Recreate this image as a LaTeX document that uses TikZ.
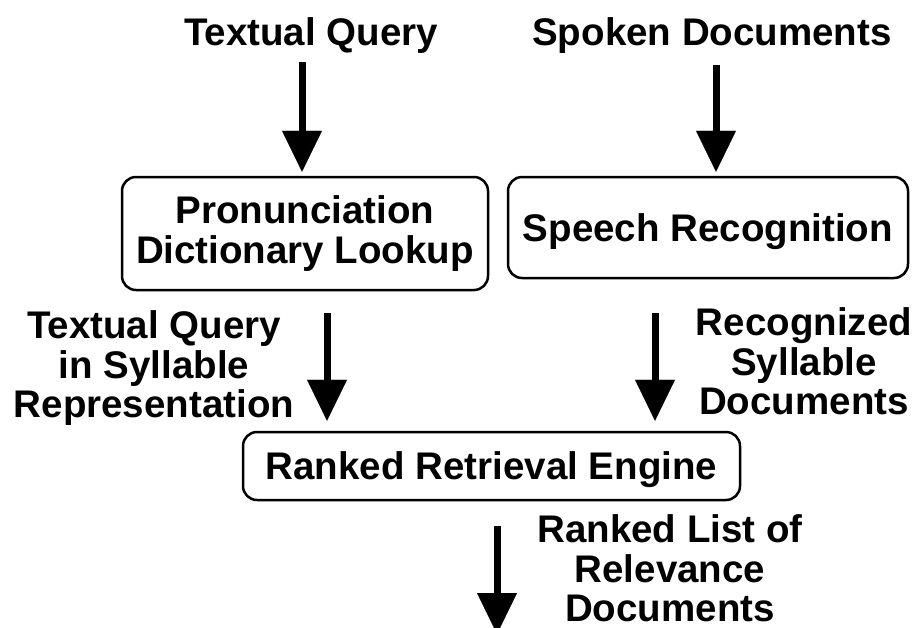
\documentclass[tikz,border=0pt]{standalone}
\usepackage{fontspec}
\setmainfont{Liberation Sans}
\usetikzlibrary{arrows.meta}

\tikzset{
  lbl/.style={inner sep=0pt, align=center, text=black},
  box/.style={draw, line width=2.5pt, rounded corners=14pt, inner sep=0pt, align=center},
  captext/.style={text height=27.5pt, text depth=0pt},
  flow/.style={line width=7pt, -{Triangle[width=40pt,length=41pt,line width=0.1pt]}},
}

\begin{document}
\begin{tikzpicture}[x=1pt, y=-1pt, font=\fontsize{38.5}{39.5}\selectfont\bfseries]
  \useasboundingbox (0,0) rectangle (915,627);
  \clip (0,0) rectangle (915,627);

  % inputs
  \node[lbl, anchor=base] (tq) at (311,45) {Textual Query};
  \node[lbl, anchor=base] (sd) at (712,45) {Spoken Documents};

  % processing blocks
  \node[box, minimum width=366pt, minimum height=113pt] (pdl) at (305,233.5)
       {Pronunciation\\Dictionary Lookup};
  \node[box, captext, minimum width=400pt, minimum height=101pt] (sr) at (708,227.5)
       {Speech Recognition};
  \node[box, captext, minimum width=497pt, minimum height=68pt] (rre) at (491.5,466)
       {Ranked Retrieval Engine};

  % intermediate labels
  \node[lbl, anchor=north] (lq) at (154,310.5) {Textual Query\\in Syllable\\Representation};
  \node[lbl, anchor=north] (rs) at (804,307.5) {Recognized\\Syllable\\Documents};
  \node[lbl, anchor=north] (rl) at (670,514.5) {Ranked List of\\Relevance\\Documents};

  \coordinate (out) at (497,634);

  % data flow
  \draw[flow, shorten <=9pt, shorten >=4pt] ([xshift=-9pt]tq.south) -- ([xshift=-3pt]pdl.north);
  \draw[flow, shorten <=12pt, shorten >=4pt] ([xshift=4pt]sd.south) -- ([xshift=8pt]sr.north);
  \draw[flow, shorten <=22pt, shorten >=10pt] ([xshift=22pt]pdl.south) -- ([xshift=-164.5pt]rre.north);
  \draw[flow, shorten <=34pt, shorten >=10pt] ([xshift=-53pt]sr.south) -- ([xshift=163.5pt]rre.north);
  \draw[flow, shorten <=25pt] ([xshift=5.5pt]rre.south) -- (out);
\end{tikzpicture}
\end{document}
